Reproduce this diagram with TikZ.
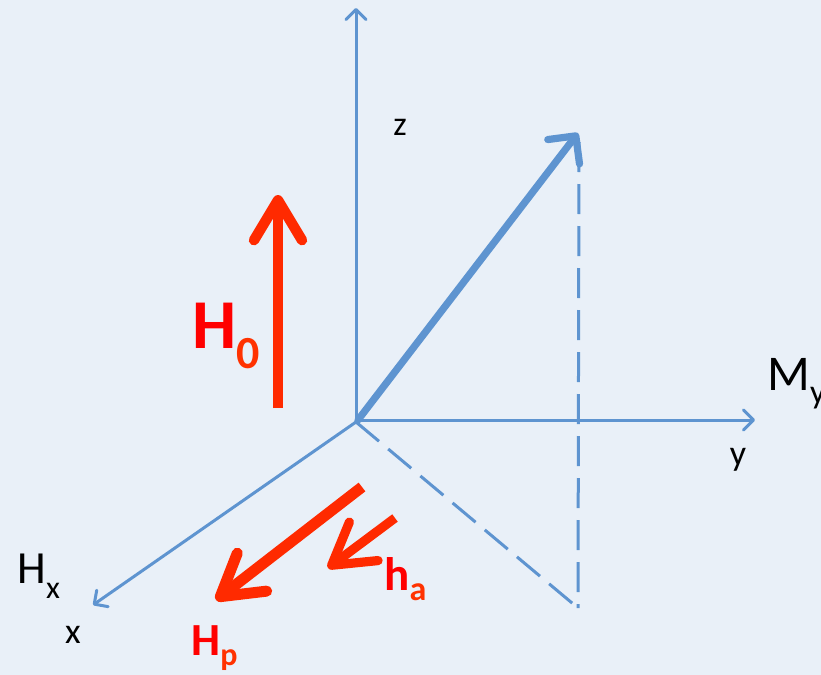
\documentclass[tikz,border=0pt]{standalone}
\usepackage{fontspec}
\setmainfont{Carlito}
\usetikzlibrary{arrows.meta}
\definecolor{bgblue}{RGB}{233,240,248}
\definecolor{axblue}{RGB}{94,148,208}
\definecolor{vred}{RGB}{255,42,0}
\definecolor{lred}{RGB}{255,0,0}
\definecolor{sred}{RGB}{255,50,0}
\tikzset{
  axis/.style={draw=axblue, line width=1.5pt, -{Straight Barb[length=5pt,width=10pt,line cap=round,line join=round]}},
  dashax/.style={draw=axblue, line width=1.5pt, dash pattern=on 15pt off 6pt},
  magvec/.style={draw=axblue, line width=3.6pt, line cap=round, -{Straight Barb[length=10pt,width=20pt,line cap=round,line join=round]}},
  fieldvec/.style={draw=vred, line width=#1, -{Straight Barb[length=20pt,width=24pt,line cap=round,line join=round]}},
  lbl/.style={inner sep=0pt, anchor=base west},
}
\begin{document}
\begin{tikzpicture}[x=0.5pt,y=-0.5pt]
\fill[bgblue] (0,0) rectangle (821,675);
\useasboundingbox (0,0) rectangle (821,675);
% axes
\coordinate (O) at (356,422);
\coordinate (zt) at (356,8);
\coordinate (yt) at (755,420);
\coordinate (xt) at (93,605);
\coordinate (M) at (578,133);
\coordinate (Mb) at (578,608);
\draw[axis] (O) -- (zt);
\draw[axis] (356,420) -- (yt);
\draw[axis] (O) -- (xt);
\draw[dashax] (579,142) -- (Mb);
\draw[dashax] (O) -- (Mb);
\draw[magvec] (358,420) -- (M);
% red field vectors
\coordinate (H0s) at (278,408);
\coordinate (H0e) at (278,195);
\coordinate (Hps) at (362,487);
\coordinate (Hpe) at (216,600);
\coordinate (has) at (395,518);
\coordinate (hae) at (328,568);
\draw[fieldvec=5.2pt] (H0s) -- (H0e);
\draw[fieldvec=5.5pt] (Hps) -- (Hpe);
\draw[fieldvec=4.6pt] (has) -- (hae);
% labels
\node (lz) at (400,127) {\fontsize{17pt}{20pt}\selectfont z};
\node (ly) at (738,460) {\fontsize{18pt}{20pt}\selectfont y};
\node[lbl] (lM) at (767,390) {\fontsize{25pt}{30pt}\selectfont M\raisebox{-6.5pt}{\fontsize{17pt}{18pt}\selectfont y}};
\node[lbl] (lH0) at (192,348) {\color{lred}\bfseries\fontsize{35pt}{40pt}\selectfont H\raisebox{-10pt}{\color{sred}\fontsize{23pt}{26pt}\selectfont 0}};
\node[lbl] (lHp) at (191,655) {\color{lred}\bfseries\fontsize{23pt}{28pt}\selectfont H\raisebox{-5pt}{\color{sred}\fontsize{16pt}{18pt}\selectfont p}};
\node[lbl] (lha) at (384,590) {\color{lred}\bfseries\fontsize{23.5pt}{28pt}\selectfont h\raisebox{-5pt}{\color{sred}\fontsize{17pt}{18pt}\selectfont a}};
\node[lbl] (lHx) at (17,583) {\fontsize{23pt}{28pt}\selectfont H\raisebox{-7.5pt}{\fontsize{16pt}{18pt}\selectfont x}};
\node (lx) at (73,635) {\fontsize{18pt}{22pt}\selectfont x};
\end{tikzpicture}
\end{document}
